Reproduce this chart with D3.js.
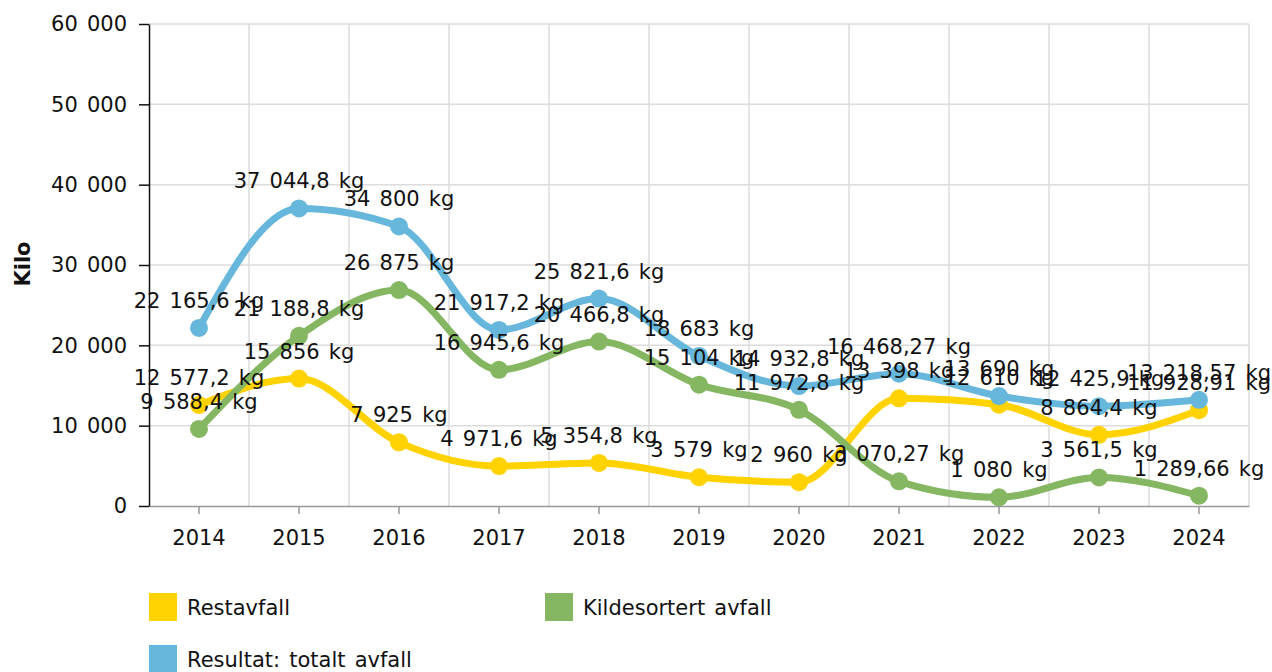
<!DOCTYPE html>
<html>
<head>
<meta charset="utf-8">
<script src="https://cdn.jsdelivr.net/npm/d3@7"></script>
<style>
  body { margin: 0; background: #fff; }
  svg { font-family: "DejaVu Sans", Verdana, sans-serif; word-spacing: 2.5px; }
</style>
</head>
<body>
<div id="graph"></div>
<script>
// data
const years = ["2014","2015","2016","2017","2018","2019","2020","2021","2022","2023","2024"];
const restavfall = [12577.2, 15856, 7925, 4971.6, 5354.8, 3579, 2960, 13398, 12610, 8864.4, 11928.91];
const kildesortert = [9588.4, 21188.8, 26875, 16945.6, 20466.8, 15104, 11972.8, 3070.27, 1080, 3561.5, 1289.66];
const totalt = [22165.6, 37044.8, 34800, 21917.2, 25821.6, 18683, 14932.8, 16468.27, 13690, 12425.9, 13218.57];
const yTicks = [0, 10000, 20000, 30000, 40000, 50000, 60000];

const series = [
  { name: "Restavfall", values: restavfall, color: "#FFD200" },
  { name: "Kildesortert avfall", values: kildesortert, color: "#85B762" },
  { name: "Resultat: totalt avfall", values: totalt, color: "#67B7DC" }
];

const width = 1272, height = 672;
const marges = { haut: 24, droit: 23, bas: 166, gauche: 149 };
const largeur = width - marges.gauche - marges.droit,
      hauteur = height - marges.haut - marges.bas;

// format norvégien : espace pour les milliers, virgule décimale
const fmt = v => {
  const parts = String(v).split(".");
  const ent = parts[0].replace(/\B(?=(\d{3})+(?!\d))/g, " ");
  return parts.length > 1 ? ent + "," + parts[1] : ent;
};

const x = d3.scaleBand().domain(years).range([0, largeur]);
const y = d3.scaleLinear().domain([0, 60000]).range([hauteur, 0]);

const svg = d3.select("#graph").append("svg")
    .attr("width", width)
    .attr("height", height);

const g = svg.append("g")
    .attr("transform", "translate(" + marges.gauche + "," + marges.haut + ")");

// grille horizontale
g.append("g")
  .selectAll("line")
  .data(yTicks.slice(1))
  .enter().append("line")
    .attr("x1", 0).attr("x2", largeur)
    .attr("y1", d => y(d)).attr("y2", d => y(d))
    .attr("stroke", "#dcdcdc").attr("stroke-width", 1.5);

// grille verticale (limites des bandes)
g.append("g")
  .selectAll("line")
  .data(years)
  .enter().append("line")
    .attr("x1", d => x(d) + x.bandwidth()).attr("x2", d => x(d) + x.bandwidth())
    .attr("y1", 0).attr("y2", hauteur)
    .attr("stroke", "#dcdcdc").attr("stroke-width", 1.5);

// axe X
const axeX = g.append("g")
    .attr("transform", "translate(0," + hauteur + ")")
    .call(d3.axisBottom(x).tickSize(8).tickSizeOuter(0).tickPadding(16));
axeX.select(".domain").attr("stroke", "#999").attr("stroke-width", 1.5);
axeX.selectAll(".tick line").attr("stroke", "#999").attr("stroke-width", 1.5);
axeX.selectAll("text").attr("font-size", 21).attr("fill", "#111")
    .attr("font-family", "DejaVu Sans");

// axe Y
const axeY = g.append("g")
    .call(d3.axisLeft(y).tickValues(yTicks).tickSize(10).tickSizeOuter(0).tickPadding(12)
      .tickFormat(d => fmt(d)));
axeY.select(".domain").attr("stroke", "#111").attr("stroke-width", 1.5);
axeY.selectAll(".tick line").attr("stroke", "#111").attr("stroke-width", 1.5);
axeY.selectAll("text").attr("font-size", 21).attr("fill", "#111")
    .attr("font-family", "DejaVu Sans");

svg.append("text")
    .attr("transform", "translate(30," + (marges.haut + y(30000) - 1) + ") rotate(-90)")
    .attr("text-anchor", "middle")
    .attr("font-size", 21)
    .attr("font-weight", "bold")
    .attr("fill", "#111")
    .text("Kilo");

const cx = d => x(d) + x.bandwidth() / 2;

const ligne = d3.line()
    .x((d, i) => cx(years[i]))
    .y(d => y(d))
    .curve(d3.curveMonotoneX);

series.forEach(s => {
  g.append("path")
      .datum(s.values)
      .attr("fill", "none")
      .attr("stroke", s.color)
      .attr("stroke-width", 7)
      .attr("d", ligne);
  g.append("g")
    .selectAll("circle")
    .data(s.values)
    .enter().append("circle")
      .attr("cx", (d, i) => cx(years[i]))
      .attr("cy", d => y(d))
      .attr("r", 9)
      .attr("fill", s.color);
});

// étiquettes
series.forEach(s => {
  g.append("g")
    .selectAll("text")
    .data(s.values)
    .enter().append("text")
      .attr("x", (d, i) => cx(years[i]))
      .attr("y", d => y(d) - 20)
      .attr("text-anchor", "middle")
      .attr("font-size", 21)
      .attr("fill", "#111")
      .text(d => fmt(d) + " kg");
});

// légende
const legende = [
  { s: series[0], x: 149, y: 593 },
  { s: series[1], x: 545, y: 593 },
  { s: series[2], x: 149, y: 645 }
];
legende.forEach(l => {
  svg.append("rect")
      .attr("x", l.x).attr("y", l.y)
      .attr("width", 28).attr("height", 28)
      .attr("fill", l.s.color);
  svg.append("text")
      .attr("x", l.x + 38).attr("y", l.y + 22)
      .attr("font-size", 21)
      .attr("fill", "#111")
      .text(l.s.name);
});
</script>
</body>
</html>
